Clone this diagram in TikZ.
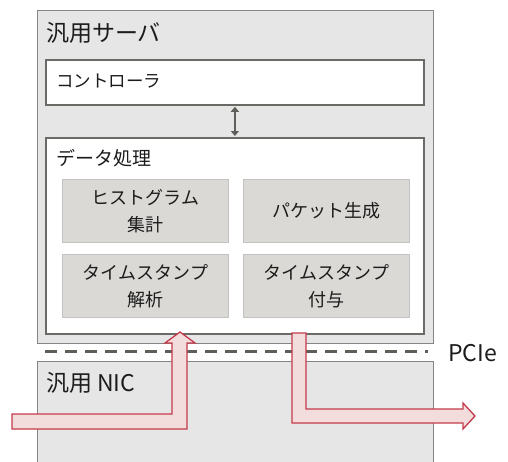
\documentclass[tikz,border=0pt]{standalone}
\usepackage{fontspec}
\setmainfont{Noto Sans CJK JP}
\usetikzlibrary{arrows.meta}
\definecolor{outerfill}{HTML}{E7E6E6}
\definecolor{outerline}{HTML}{858585}
\definecolor{boxline}{HTML}{6A6A66}
\definecolor{innerfill}{HTML}{DAD9D6}
\definecolor{innerline}{HTML}{C2C2C0}
\definecolor{arrfill}{HTML}{F2DCDC}
\definecolor{arrline}{HTML}{C23B4C}
\definecolor{dashcol}{HTML}{5F5F5A}
\definecolor{txt}{HTML}{1C1C1C}
\tikzset{
  outerbox/.style={draw=outerline, fill=outerfill, line width=1.3pt, anchor=north west, inner sep=0pt},
  whitebox/.style={draw=boxline, fill=white, line width=1.8pt, anchor=north west, inner sep=0pt},
  innerbox/.style={draw=innerline, fill=innerfill, line width=1pt, anchor=north west, inner sep=0pt,
    minimum width=166pt, minimum height=63pt},
  innertext/.style={text=txt, font=\fontsize{18}{27}\selectfont, align=center, inner sep=0pt},
  lbl/.style={text=txt, anchor=west, inner sep=0pt},
  blockarrow/.style={draw=arrline, fill=arrfill, line width=1.3pt, line join=miter},
  dblarrow/.style={draw=dashcol, line width=1.8pt, {Triangle[length=5pt,width=8pt]}-{Triangle[length=5pt,width=8pt]}, shorten <=1pt, shorten >=1pt},
  pcieline/.style={draw=dashcol, line width=3pt, dash pattern=on 12pt off 8pt}
}
\begin{document}
\begin{tikzpicture}[x=1pt,y=-1pt]
\clip (0,0) rectangle (508,461);
\fill[white] (0,0) rectangle (508,461);
% outer boxes
\node[outerbox, minimum width=396pt, minimum height=333pt] (server) at (37,10) {};
\node[outerbox, minimum width=396pt, minimum height=130pt] (nic) at (37,361) {};
% controller and data processing
\node[whitebox, minimum width=378pt, minimum height=45pt] (ctrl) at (45,59) {};
\node[whitebox, minimum width=378pt, minimum height=196pt] (data) at (45,137) {};
\draw[dblarrow] (ctrl.south) -- (data.north);
% inner boxes
\node[innerbox] (hist) at (62,179) {};
\node[innerbox] (pkt) at (243,179) {};
\node[innerbox] (tsa) at (62,254) {};
\node[innerbox] (tsg) at (243,254) {};
\node[innertext] at (hist.center) {ヒストグラム\\集計};
\node[innertext] at (pkt.center) {パケット生成};
\node[innertext] at (tsa.center) {タイムスタンプ\\解析};
\node[innertext] at (tsg.center) {タイムスタンプ\\付与};
% PCIe dashed line
\coordinate (dl) at (45,351);
\coordinate (dr) at (428,351);
\draw[pcieline] (dl) -- (dr);
\node[lbl, font=\fontsize{23}{27}\selectfont] (pcie) at (448,353) {PCIe};
% labels
\node[lbl, font=\fontsize{23}{27}\selectfont] (serverlbl) at (46,33) {汎用サーバ};
\node[lbl, font=\fontsize{17.5}{20}\selectfont] (ctrllbl) at (56,81) {コントローラ};
\node[lbl, font=\fontsize{19}{22}\selectfont] (datalbl) at (56,158) {データ処理};
\node[lbl, font=\fontsize{23}{27}\selectfont] (niclbl) at (46,383) {汎用 NIC};
% red block arrows
\draw[blockarrow] (12,414) -- (172,414) -- (172,343) -- (165,343) -- (180,332)
  -- (195,343) -- (187,343) -- (187,429) -- (12,429) -- cycle;
\draw[blockarrow] (292,333) -- (306,333) -- (306,409) -- (463,409) -- (463,403)
  -- (475,416) -- (463,429) -- (463,423) -- (292,423) -- cycle;
\end{tikzpicture}
\end{document}
